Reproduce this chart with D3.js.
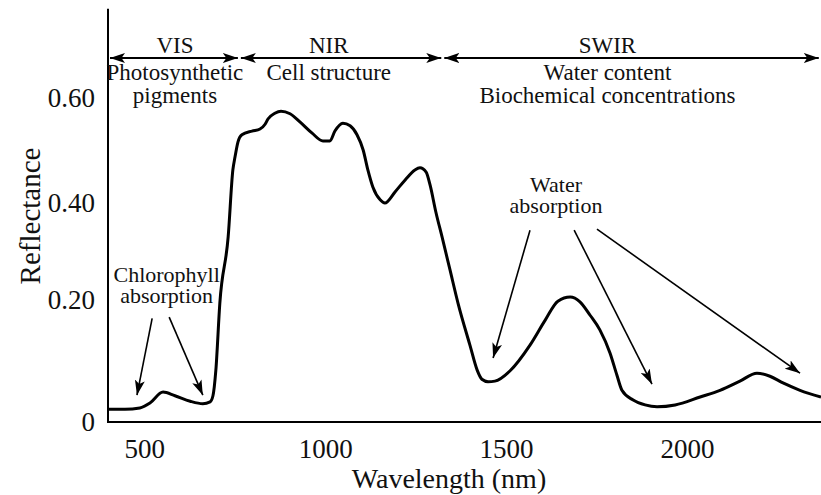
<!DOCTYPE html>
<html>
<head>
<meta charset="utf-8">
<script src="https://cdn.jsdelivr.net/npm/d3@7"></script>
<style>
  html, body { margin: 0; padding: 0; background: #fff; }
  svg { display: block; }
</style>
</head>
<body>
<svg id="chart" width="821" height="495"></svg>
<script>
// Vegetation reflectance spectrum (wavelength in nm, reflectance 0-1)
const wavelength = [400, 447, 488, 516, 552, 585, 627, 662, 682, 690, 698, 709, 732, 745, 751, 759, 770, 798, 820, 834, 842, 861, 878, 903, 931, 964, 994, 1013, 1027, 1049, 1069, 1088, 1105, 1118, 1132, 1152, 1165, 1193, 1221, 1248, 1262, 1279, 1290, 1306, 1323, 1345, 1367, 1400, 1420, 1433, 1450, 1469, 1511, 1566, 1608, 1643, 1677, 1704, 1732, 1759, 1787, 1806, 1820, 1851, 1884, 1917, 1967, 2036, 2091, 2146, 2193, 2229, 2265, 2312, 2370];
const reflectance = [0.021, 0.021, 0.023, 0.031, 0.049, 0.043, 0.034, 0.030, 0.033, 0.043, 0.085, 0.195, 0.330, 0.463, 0.488, 0.516, 0.530, 0.537, 0.541, 0.550, 0.560, 0.571, 0.575, 0.570, 0.554, 0.533, 0.518, 0.518, 0.537, 0.552, 0.547, 0.530, 0.501, 0.463, 0.430, 0.406, 0.400, 0.421, 0.444, 0.463, 0.467, 0.459, 0.434, 0.381, 0.330, 0.262, 0.195, 0.126, 0.085, 0.070, 0.066, 0.067, 0.084, 0.126, 0.167, 0.198, 0.206, 0.197, 0.175, 0.151, 0.113, 0.077, 0.052, 0.036, 0.028, 0.025, 0.028, 0.041, 0.052, 0.067, 0.080, 0.075, 0.064, 0.052, 0.041];

// Axis ticks
const xTicks = [500, 1000, 1500, 2000];
const yTicks = [0, 0.2, 0.4, 0.6];

// Spectral regions: boundaries (nm), names, descriptions, label anchor (nm)
const bandEdges = [400, 763, 1325, 2368];
const bandNames = ["VIS", "NIR", "SWIR"];
const bandNotes = [["Photosynthetic", "pigments"], ["Cell structure"], ["Water content", "Biochemical concentrations"]];
const bandLabelAt = [585, 1010, 1780];

// Absorption callouts: label anchor and arrow start/end (nm, reflectance)
const calloutText = [["Chlorophyll", "absorption"], ["Water", "absorption"]];
const calloutLabelAt = [[562, 0.237], [1638, 0.421]];
const chlorophyllArrows = [[[522, 0.170], [480, 0.044]], [[569, 0.172], [662, 0.044]]];
const waterArrows = [[[1566, 0.344], [1464, 0.105]], [[1688, 0.344], [1903, 0.062]], [[1751, 0.346], [2312, 0.080]]];

const FONT = '"Liberation Serif", "Times New Roman", serif';
const INK = "#111";

const svg = d3.select("#chart");
const W = 821;
const left = 108, bottom = 422;

const x = d3.scaleLinear().domain([400, 2370]).range([left, W]);
const y = d3.scaleLinear().domain([0, 0.2, 0.4, 0.6]).range([bottom, 300, 203, 98]);

function label(sel, size) {
  return sel.attr("font-family", FONT).attr("font-size", size).attr("fill", INK);
}

// arrowhead marker
const defs = svg.append("defs");
defs.append("marker")
  .attr("id", "head")
  .attr("viewBox", "0 -5 15 10")
  .attr("refX", 15).attr("refY", 0)
  .attr("markerUnits", "userSpaceOnUse")
  .attr("markerWidth", 15).attr("markerHeight", 10)
  .attr("orient", "auto-start-reverse")
  .append("path")
  .attr("d", "M0,-5L15,0L0,5L3.5,0Z")
  .attr("fill", "#000");

// axes
const xAxis = d3.axisBottom(x).tickValues(xTicks).tickSize(0).tickPadding(17).tickFormat(d3.format("d"));
const gx = svg.append("g").attr("transform", `translate(0,${bottom})`).call(xAxis);
gx.select(".domain").remove();
label(gx.selectAll("text"), 27);

const yAxis = d3.axisLeft(y).tickValues(yTicks).tickSize(0).tickPadding(13)
  .tickFormat(d => d === 0 ? "0" : d3.format(".2f")(d));
const gy = svg.append("g").attr("transform", `translate(${left},0)`).call(yAxis);
gy.select(".domain").remove();
label(gy.selectAll("text"), 27);

// axis lines
svg.append("line").attr("x1", left).attr("x2", left).attr("y1", y(0.77)).attr("y2", bottom + 1)
  .attr("stroke", "#000").attr("stroke-width", 2);
svg.append("line").attr("x1", left - 1).attr("x2", W).attr("y1", bottom).attr("y2", bottom)
  .attr("stroke", "#000").attr("stroke-width", 2);

// axis titles
label(svg.append("text"), 28).attr("x", 449).attr("y", 488).attr("text-anchor", "middle")
  .text("Wavelength (nm)");
label(svg.append("text"), 29).attr("transform", `translate(40,216) rotate(-90)`).attr("text-anchor", "middle")
  .text("Reflectance");

// spectral region arrows and labels
const bandY = 58;
bandNames.forEach((name, i) => {
  const x0 = x(bandEdges[i]) + (i === 0 ? 2 : 1.5);
  const x1 = x(bandEdges[i + 1]) - 1.5;
  svg.append("line").attr("x1", x0).attr("x2", x1).attr("y1", bandY).attr("y2", bandY)
    .attr("stroke", "#000").attr("stroke-width", 2)
    .attr("marker-start", "url(#head)").attr("marker-end", "url(#head)");
  const cx = x(bandLabelAt[i]);
  label(svg.append("text"), 23).attr("x", cx).attr("y", bandY - 5).attr("text-anchor", "middle").text(name);
  bandNotes[i].forEach((t, j) => {
    label(svg.append("text"), 23).attr("x", cx).attr("y", bandY + 22 + j * 23)
      .attr("text-anchor", "middle").text(t);
  });
});

// reflectance curve
const pts = wavelength.map((w, i) => [w, reflectance[i]]);
const line = d3.line().x(d => x(d[0])).y(d => y(d[1])).curve(d3.curveMonotoneX);
svg.append("path").datum(pts).attr("d", line)
  .attr("fill", "none").attr("stroke", "#000").attr("stroke-width", 3)
  .attr("stroke-linejoin", "round");

// callouts
calloutText.forEach((lines, i) => {
  const [cw, cr] = calloutLabelAt[i];
  lines.forEach((t, j) => {
    label(svg.append("text"), 22).attr("x", x(cw)).attr("y", y(cr) + j * 21)
      .attr("text-anchor", "middle").text(t);
  });
});
[...chlorophyllArrows, ...waterArrows].forEach(a => {
  svg.append("line")
    .attr("x1", x(a[0][0])).attr("y1", y(a[0][1]))
    .attr("x2", x(a[1][0])).attr("y2", y(a[1][1]))
    .attr("stroke", "#000").attr("stroke-width", 1.6)
    .attr("marker-end", "url(#head)");
});
</script>
</body>
</html>
